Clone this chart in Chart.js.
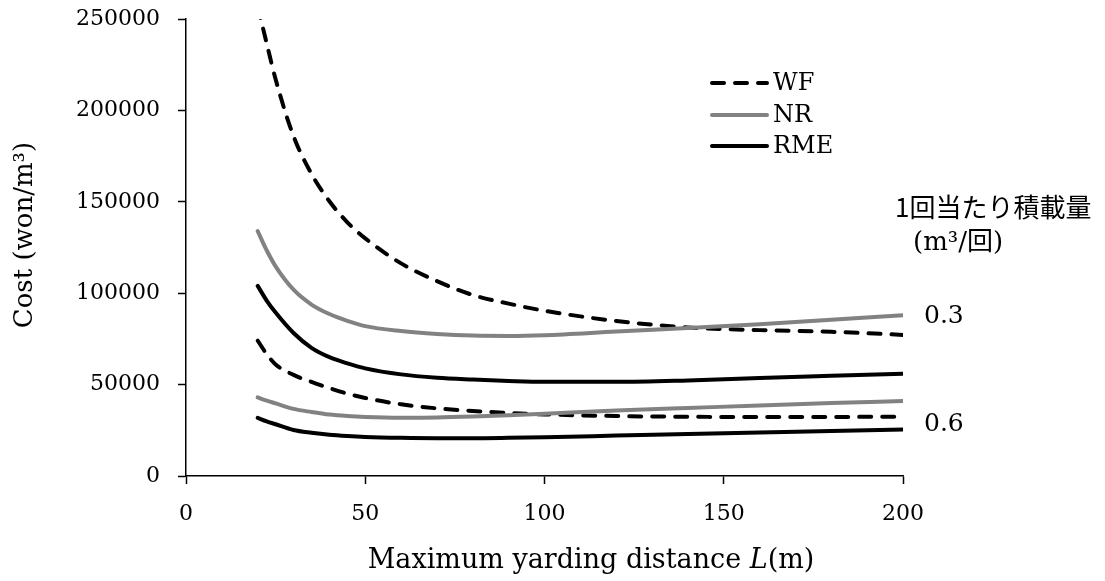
<!DOCTYPE html>
<html><head><meta charset="utf-8">
<script src="https://cdn.jsdelivr.net/npm/chart.js@4/dist/chart.umd.min.js"></script>
<style>html,body{margin:0;padding:0;background:#fff;overflow:hidden}#wrap{width:1105px;height:581px;position:relative}</style>
</head><body><div id="wrap"><canvas id="c" width="1105" height="581"></canvas></div>
<script>
// Maximum yarding distance L (m)
const distances = [20, 22.5, 25, 30, 35, 40, 45, 50, 60, 70, 80, 90, 100, 120, 140, 160, 180, 200];
// Load per trip 0.3 m3
const wf03  = [257000, 236700, 217000, 185900, 165300, 150300, 138800, 130000, 116300, 106600, 99000, 94300, 90400, 84800, 81300, 79800, 78900, 77200];
const nr03  = [134000, 123500, 114700, 101900, 93800, 88600, 84900, 82000, 79300, 77700, 76800, 76600, 77000, 79000, 80900, 83000, 85500, 88000];
const rme03 = [104000, 96000, 89400, 78200, 70100, 65000, 61600, 58900, 55600, 53800, 52800, 52000, 51500, 51500, 52300, 53600, 54800, 56000];
// Load per trip 0.6 m3
const wf06  = [74000, 66700, 61000, 55300, 51500, 48100, 45100, 42700, 39200, 37000, 35600, 34500, 33700, 32800, 32400, 32300, 32300, 32500];
const nr06  = [43000, 41200, 39700, 36700, 35000, 33600, 32800, 32300, 31900, 32000, 32500, 33200, 34000, 35800, 37200, 38600, 39900, 41000];
const rme06 = [31800, 29900, 28300, 25200, 23700, 22600, 21900, 21400, 20900, 20700, 20700, 20900, 21200, 22100, 23000, 23800, 24600, 25500];

const seriesNames = ['WF', 'NR', 'RME'];
const loadLabels = ['0.3', '0.6'];
const xTicks = [0, 50, 100, 150, 200];
const yTicks = [0, 50000, 100000, 150000, 200000, 250000];

const toPts = arr => arr.map((v, i) => ({x: distances[i], y: v}));
const styles = {
  WF:  {borderColor: '#000000', borderDash: [12, 11], order: 3},
  NR:  {borderColor: '#828282', borderDash: [], order: 1},
  RME: {borderColor: '#000000', borderDash: [], order: 2}
};
function ds(name, load, arr) {
  const s = styles[name];
  return {
    label: name + ' ' + load, data: toPts(arr), series: name, load: load,
    borderColor: s.borderColor, borderDash: s.borderDash, order: s.order,
    borderWidth: 4, borderCapStyle: 'round', borderJoinStyle: 'round',
    pointRadius: 0, fill: false, cubicInterpolationMode: 'monotone'
  };
}
const datasets = [
  ds('WF', loadLabels[0], wf03), ds('NR', loadLabels[0], nr03), ds('RME', loadLabels[0], rme03),
  ds('WF', loadLabels[1], wf06), ds('NR', loadLabels[1], nr06), ds('RME', loadLabels[1], rme06)
];

const SERIF = '"DejaVu Serif", serif';
const textPlugin = {
  id: 'texts',
  afterDraw(chart) {
    const ctx = chart.ctx;
    ctx.save();
    ctx.fillStyle = '#000';
    // Legend
    const legY = [83, 115, 146];
    seriesNames.forEach((name, i) => {
      const d = chart.data.datasets.find(x => x.series === name);
      ctx.save();
      ctx.strokeStyle = d.borderColor;
      ctx.lineWidth = d.borderWidth;
      ctx.lineCap = 'round';
      ctx.setLineDash(d.borderDash);
      ctx.beginPath();
      ctx.moveTo(712, legY[i]);
      ctx.lineTo(767, legY[i]);
      ctx.stroke();
      ctx.restore();
      ctx.font = '24px ' + SERIF;
      ctx.textAlign = 'left';
      ctx.textBaseline = 'middle';
      ctx.fillText(name, 773, legY[i] + 1);
    });
    // Load labels at right end
    ctx.font = '25px ' + SERIF;
    ctx.textAlign = 'left';
    ctx.textBaseline = 'middle';
    ctx.fillText(loadLabels[0], 924, 316);
    ctx.fillText(loadLabels[1], 924, 424);
    ctx.font = '26px "Noto Sans CJK JP", ' + SERIF;
    ctx.fillText('1回当たり積載量', 895, 207);
    ctx.font = '26px ' + SERIF + ', "Noto Sans CJK JP"';
    ctx.fillText('(m³/回)', 913, 243);
    // X axis title with italic L
    const parts = [['Maximum yarding distance ', ''], ['L', 'italic '], ['(m)', '']];
    ctx.textBaseline = 'alphabetic';
    let total = 0;
    parts.forEach(p => { ctx.font = p[1] + '27px ' + SERIF; p.w = ctx.measureText(p[0]).width; total += p.w; });
    let x = 591 - total / 2;
    parts.forEach(p => { ctx.font = p[1] + '27px ' + SERIF; ctx.fillText(p[0], x, 568); x += p.w; });
    // Y axis title
    ctx.translate(25, 235);
    ctx.rotate(-Math.PI / 2);
    ctx.font = '26px ' + SERIF;
    ctx.textAlign = 'center';
    ctx.textBaseline = 'middle';
    ctx.fillText('Cost (won/m³)', 0, 0);
    ctx.restore();
  }
};

new Chart(document.getElementById('c'), {
  type: 'line',
  data: {datasets},
  options: {
    responsive: false, animation: false, devicePixelRatio: 1,
    layout: {padding: {top: 19, right: 202, left: 0, bottom: 0}},
    plugins: {legend: {display: false}, tooltip: {enabled: false}},
    scales: {
      x: {
        type: 'linear', min: 0, max: 200,
        afterFit: s => { s.height = 105; s.paddingLeft = 0; s.paddingRight = 0; },
        afterBuildTicks: s => { s.ticks = xTicks.map(v => ({value: v})); },
        grid: {drawOnChartArea: false, drawTicks: true, tickLength: 8, color: '#000', tickWidth: 1.5},
        border: {display: true, color: '#000', width: 1.5},
        ticks: {color: '#000', font: {family: SERIF, size: 22}, padding: 17, maxRotation: 0, callback: v => String(v)}
      },
      y: {
        type: 'linear', min: 0, max: 250000,
        afterFit: s => { s.width = 186; s.paddingTop = 0; s.paddingBottom = 0; },
        afterBuildTicks: s => { s.ticks = yTicks.map(v => ({value: v})); },
        grid: {drawOnChartArea: false, drawTicks: true, tickLength: 8, color: '#000', tickWidth: 1.5},
        border: {display: true, color: '#000', width: 1.5},
        ticks: {color: '#000', font: {family: SERIF, size: 22}, padding: 18, callback: v => String(v)}
      }
    }
  },
  plugins: [textPlugin]
});
</script>
</body></html>
